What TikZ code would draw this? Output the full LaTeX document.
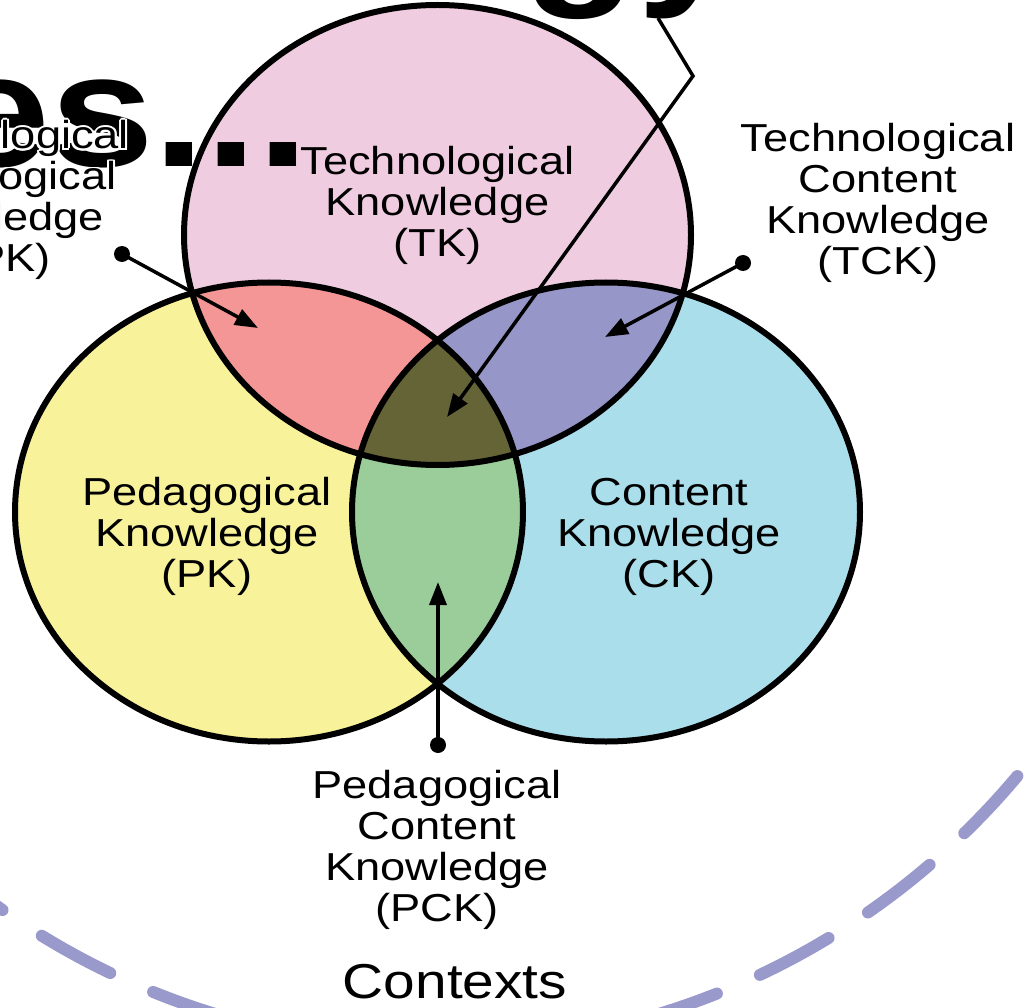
\documentclass[tikz,border=0pt]{standalone}
\usepackage{fontspec}
\setmainfont{Liberation Sans}[FakeStretch=1.16]
\newfontfamily\bigbold{Liberation Sans Bold}[FakeStretch=1.16]
\usetikzlibrary{arrows.meta}
\definecolor{tkc}{HTML}{F0CCE0}
\definecolor{pkc}{HTML}{F8F29B}
\definecolor{ckc}{HTML}{AADEEA}
\definecolor{tpkc}{HTML}{F49696}
\definecolor{tckc}{HTML}{9696C8}
\definecolor{pckc}{HTML}{9BCD9B}
\definecolor{tpackc}{HTML}{646437}
\definecolor{ctxc}{HTML}{9999CC}
\begin{document}
\begin{tikzpicture}[x=1pt,y=-1pt,
  lbl/.style={font=\fontsize{39}{41}\selectfont, align=center, inner sep=0pt, anchor=base},
  ring/.style={draw=black, line width=6pt},
  pointer/.style={line width=3.5pt, -{Triangle[length=23pt,width=17pt]}},
  ctx/.style={draw=ctxc, line width=12pt, line cap=round, dash pattern=on 78pt off 46.9pt, dash phase=96.6pt},
  bigtitle/.style={font=\bigbold\fontsize{161}{161}\selectfont, inner sep=0pt}]
\useasboundingbox (0,0) rectangle (1031,1008);
\clip (0,0) rectangle (1031,1008);
\fill[white] (0,0) rectangle (1031,1008);
% outer contexts ring
\draw[ctx] (437,290) circle [radius=757];
% circles
\def\TK{(437.5,235) ellipse [x radius=253.5, y radius=230]}
\def\PK{(269,512) ellipse [x radius=254, y radius=229.5]}
\def\CK{(606,512) ellipse [x radius=254, y radius=229.5]}
\fill[tkc] \TK;
\fill[pkc] \PK;
\fill[ckc] \CK;
\begin{scope}\clip \TK; \fill[tpkc] \PK; \fill[tckc] \CK; \end{scope}
\begin{scope}\clip \PK; \fill[pckc] \CK; \end{scope}
\begin{scope}\clip \TK; \clip \PK; \fill[tpackc] \CK; \end{scope}
\draw[ring] \TK;
\draw[ring] \PK;
\draw[ring] \CK;
% labels (anchor = baseline of the last line)
\node[lbl] (tk) at (437.5,257) {Technological\\Knowledge\\(TK)};
\node[lbl] (pk) at (207,587) {Pedagogical\\Knowledge\\(PK)};
\node[lbl] (ck) at (669,587) {Content\\Knowledge\\(CK)};
\node[lbl] (tck) at (878,275) {Technological\\Content\\Knowledge\\(TCK)};
\node[lbl] (pck) at (437,921) {Pedagogical\\Content\\Knowledge\\(PCK)};
\node[lbl, font=\fontsize{49}{49}\selectfont] (ctxlbl) at (455,998) {Contexts};
% pointers
\coordinate (tpkdot) at (122,254);
\coordinate (tpktip) at (258,328);
\coordinate (tckdot) at (743,263);
\coordinate (tcktip) at (605,337);
\coordinate (pckdot) at (438,745);
\coordinate (pcktip) at (438,582);
\coordinate (tpackstart) at (658,18);
\coordinate (tpackbend) at (693,76);
\coordinate (tpacktip) at (447,417);
\draw[pointer] (tpkdot) -- (tpktip);
\draw[pointer] (tckdot) -- (tcktip);
\draw[pointer] (pckdot) -- (pcktip);
\draw[pointer] (tpackstart) -- (tpackbend) -- (tpacktip);
\fill (tpkdot) circle [radius=8];
\fill (tckdot) circle [radius=8];
\fill (pckdot) circle [radius=8];
% big title fragments
\node[bigtitle, anchor=base west] (esword) at (-54,167) {es...};
\node[bigtitle, anchor=base east] (gyword) at (742,-14) {gy};
% TPK label with white halo
\coordinate (tpkpos) at (-8,272);
\foreach \a in {0,30,...,330}
  \node[lbl, text=white] at ([shift={(\a:2pt)}]tpkpos) {Technological\\Pedagogical\\Knowledge\\(TPK)};
\node[lbl] (tpk) at (tpkpos) {Technological\\Pedagogical\\Knowledge\\(TPK)};
\end{tikzpicture}
\end{document}
